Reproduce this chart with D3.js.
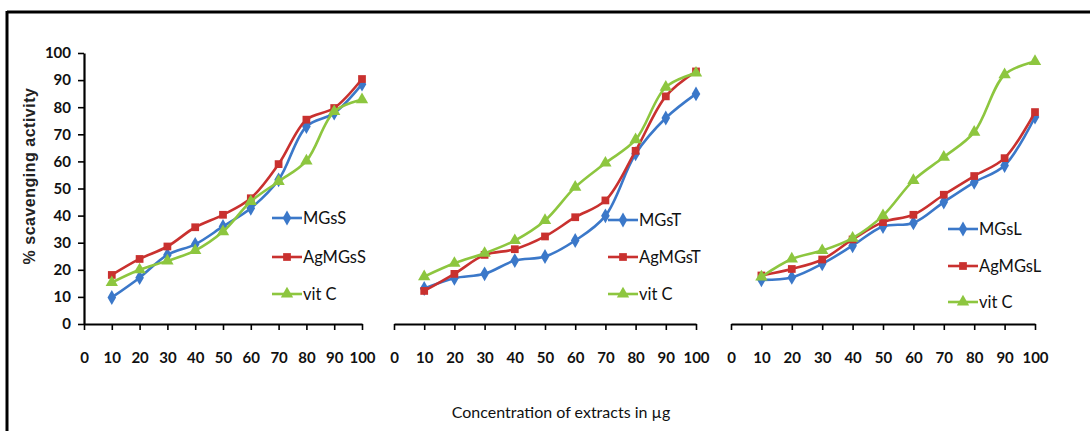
<!DOCTYPE html>
<html>
<head>
<meta charset="utf-8">
<script src="https://cdn.jsdelivr.net/npm/d3@7"></script>
<style>
  html, body { margin: 0; padding: 0; background: #fff; }
  svg { display: block; }
  .tick text { font-family: Lato, "DejaVu Sans Condensed", sans-serif; font-weight: bold; font-size: 15px; fill: #111; }
</style>
</head>
<body>
<svg id="chart" width="1090" height="431"></svg>
<script>
// Concentrations (µg) shared by all three panels
const concentrations = [10, 20, 30, 40, 50, 60, 70, 80, 90, 100];
const xTicks = [0, 10, 20, 30, 40, 50, 60, 70, 80, 90, 100];
const yTicks = [0, 10, 20, 30, 40, 50, 60, 70, 80, 90, 100];

// % scavenging activity, stem extracts
const mgsS   = [9.8, 17.1, 25.5, 29.4, 36.0, 42.7, 53.2, 72.9, 77.8, 88.5];
const agmgsS = [18.1, 24.0, 28.6, 35.7, 40.3, 46.4, 59.0, 75.4, 79.7, 90.4];
const vitC_S = [15.3, 20.0, 23.3, 27.1, 34.1, 45.2, 52.6, 60.2, 78.4, 82.8];

// % scavenging activity, tuber extracts
const mgsT   = [13.1, 16.9, 18.5, 23.4, 24.9, 30.8, 39.9, 62.8, 76.0, 84.9];
const agmgsT = [12.2, 18.5, 25.5, 27.6, 32.3, 39.4, 45.6, 63.9, 84.0, 93.2];
const vitC_T = [17.5, 22.4, 26.1, 30.8, 38.2, 50.5, 59.4, 68.0, 87.4, 92.6];

// % scavenging activity, leaf extracts
const mgsL   = [16.3, 17.2, 22.2, 28.9, 36.0, 37.3, 45.0, 52.3, 58.5, 76.4];
const agmgsL = [17.9, 20.3, 23.8, 31.2, 37.6, 40.3, 47.7, 54.6, 61.2, 78.2];
const vitC_L = [17.4, 24.0, 27.1, 31.7, 40.0, 53.0, 61.6, 70.8, 92.0, 96.9];

const colors = { blue: "#3b78c9", red: "#c9312f", green: "#8dc63f" };

const panels = [
  { x0: 84,  x1: 362,  yAxis: true,
    legendX: 272, legendY: [218, 257, 294],
    series: [
      { name: "MGsS",   values: mgsS,   color: colors.blue,  symbol: d3.symbolDiamond },
      { name: "AgMGsS", values: agmgsS, color: colors.red,   symbol: d3.symbolSquare },
      { name: "vit C",  values: vitC_S, color: colors.green, symbol: d3.symbolTriangle }
    ] },
  { x0: 394, x1: 696,  yAxis: false,
    legendX: 608, legendY: [220, 257, 294],
    series: [
      { name: "MGsT",   values: mgsT,   color: colors.blue,  symbol: d3.symbolDiamond },
      { name: "AgMGsT", values: agmgsT, color: colors.red,   symbol: d3.symbolSquare },
      { name: "vit C",  values: vitC_T, color: colors.green, symbol: d3.symbolTriangle }
    ] },
  { x0: 731, x1: 1035, yAxis: false,
    legendX: 948, legendY: [229, 266, 302],
    series: [
      { name: "MGsL",   values: mgsL,   color: colors.blue,  symbol: d3.symbolDiamond },
      { name: "AgMGsL", values: agmgsL, color: colors.red,   symbol: d3.symbolSquare },
      { name: "vit C",  values: vitC_L, color: colors.green, symbol: d3.symbolTriangle }
    ] }
];

const svg = d3.select("#chart");
const textFont = 'Lato, "DejaVu Sans Condensed", sans-serif';

// frame: top and left rules
svg.append("line").attr("x1", 7).attr("x2", 1090).attr("y1", 12).attr("y2", 12)
  .attr("stroke", "#000").attr("stroke-width", 3);
svg.append("line").attr("x1", 7).attr("x2", 7).attr("y1", 11).attr("y2", 431)
  .attr("stroke", "#000").attr("stroke-width", 3);

const y = d3.scaleLinear().domain([0, 100]).range([324, 53]);

function symbolSize(sym) {
  if (sym === d3.symbolSquare) return 60;
  if (sym === d3.symbolTriangle) return 66;
  return 64;
}

panels.forEach(p => {
  const x = d3.scaleLinear().domain([0, 100]).range([p.x0, p.x1]);
  const g = svg.append("g");

  // x axis
  const xa = g.append("g").attr("transform", "translate(0,324)")
    .call(d3.axisBottom(x).tickValues(xTicks).tickSize(6).tickPadding(22).tickSizeOuter(0));
  xa.select(".domain").attr("stroke", "#000").attr("stroke-width", 2.2);
  xa.selectAll(".tick line").attr("stroke", "#000").attr("stroke-width", 1.6);

  if (p.yAxis) {
    const ya = g.append("g").attr("transform", `translate(${p.x0},0)`)
      .call(d3.axisLeft(y).tickValues(yTicks).tickSize(6).tickPadding(7).tickSizeOuter(0));
    ya.select(".domain").attr("stroke", "#000").attr("stroke-width", 2.2);
    ya.selectAll(".tick line").attr("stroke", "#000").attr("stroke-width", 1.6);
  }

  const line = d3.line()
    .x((d, i) => x(concentrations[i]))
    .y(d => y(d))
    .curve(d3.curveCatmullRom.alpha(0.5));

  p.series.forEach(s => {
    g.append("path").datum(s.values)
      .attr("d", line)
      .attr("fill", "none")
      .attr("stroke", s.color)
      .attr("stroke-width", 2.6);
    g.selectAll(null).data(s.values).enter().append("path")
      .attr("transform", (d, i) => `translate(${x(concentrations[i])},${y(d)})`)
      .attr("d", d3.symbol().type(s.symbol).size(symbolSize(s.symbol)))
      .attr("fill", s.color);
  });

  // legend
  p.series.forEach((s, i) => {
    const ly = p.legendY[i];
    g.append("line").attr("x1", p.legendX).attr("x2", p.legendX + 30)
      .attr("y1", ly).attr("y2", ly).attr("stroke", s.color).attr("stroke-width", 2.6);
    g.append("path").attr("transform", `translate(${p.legendX + 15},${ly})`)
      .attr("d", d3.symbol().type(s.symbol).size(symbolSize(s.symbol)))
      .attr("fill", s.color);
    g.append("text").attr("x", p.legendX + 31).attr("y", ly).attr("dy", "0.36em")
      .attr("font-family", textFont).attr("font-size", 16.5).attr("fill", "#111")
      .text(s.name);
  });
});

// axis titles
svg.append("text")
  .attr("transform", "translate(35,176) rotate(-90)")
  .attr("text-anchor", "middle")
  .attr("font-family", '"Liberation Sans", Arial, sans-serif')
  .attr("font-weight", "bold").attr("font-size", 16).attr("letter-spacing", 0.5)
  .attr("fill", "#222")
  .text("% scavenging activity");

svg.append("text")
  .attr("x", 561).attr("y", 412).attr("dy", "0.36em")
  .attr("text-anchor", "middle")
  .attr("font-family", textFont).attr("font-size", 16).attr("fill", "#111")
  .text("Concentration of extracts in µg");
</script>
</body>
</html>
